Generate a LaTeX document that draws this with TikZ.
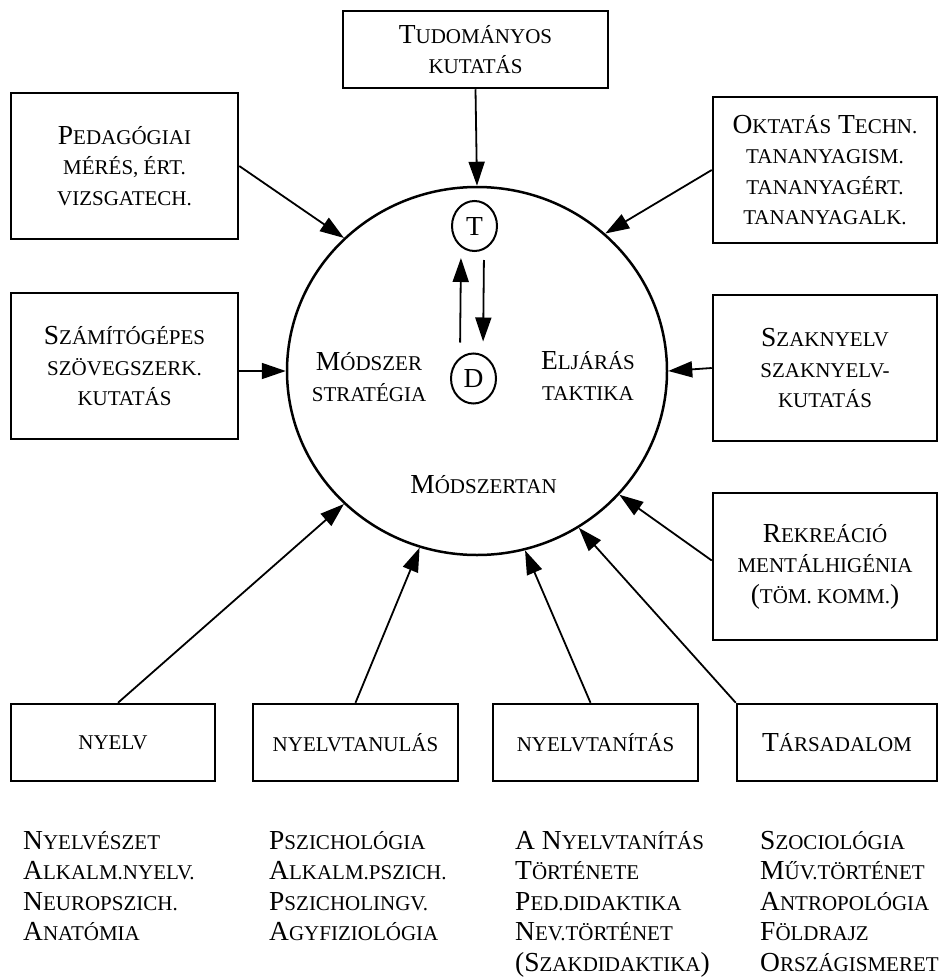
\documentclass[tikz,border=0pt]{standalone}
\usepackage{fontspec}
\setmainfont{Liberation Serif}
\usetikzlibrary{arrows.meta,shapes.geometric}
\newcommand\SC[1]{{\fontsize{21}{30.5}\selectfont #1}}
\tikzset{
  box/.style={draw, line width=2.5pt, inner sep=0pt, align=center, font=\fontsize{27.5}{30.5}\selectfont},
  txt/.style={inner sep=0pt, align=center, font=\fontsize{27.5}{30.5}\selectfont},
  lst/.style={inner sep=0pt, align=left, font=\fontsize{27.5}{30.5}\selectfont},
  arr/.style={line width=1.8pt, -{Triangle[length=24pt,width=16pt]}},
  small/.style={draw, ellipse, line width=2pt, inner sep=0pt, minimum width=45pt, minimum height=50pt, font=\fontsize{27.5}{30.5}\selectfont}
}
\begin{document}
\begin{tikzpicture}[x=1pt,y=-1pt]
\useasboundingbox (0,0) rectangle (938,977);
% central ellipse
\node[draw, ellipse, line width=2.5pt, inner sep=0pt, minimum width=380pt, minimum height=368pt] (circ) at (477,371) {};
\node[small] (T) at (474.5,226) {T};
\node[small] (D) at (473.5,378.5) {D};
\node[txt] (mod) at (369,377) {M\SC{ÓDSZER}\\\SC{STRATÉGIA}};
\node[txt] (elj) at (588,376) {E\SC{LJÁRÁS}\\\SC{TAKTIKA}};
\node[txt, anchor=base] (mt) at (483.5,493) {M\SC{ÓDSZERTAN}};
% boxes
\node[box, minimum width=265pt, minimum height=77pt] (tud) at (475.5,49.5) {T\SC{UDOMÁNYOS}\\\SC{KUTATÁS}};
\node[box, minimum width=227pt, minimum height=146pt] (ped) at (124.5,166) {P\SC{EDAGÓGIAI}\\\SC{MÉRÉS, ÉRT.}\\\SC{VIZSGATECH.}};
\node[box, minimum width=227pt, minimum height=146pt] (szam) at (124.5,366) {S\SC{ZÁMÍTÓGÉPES}\\\SC{SZÖVEGSZERK.}\\\SC{KUTATÁS}};
\node[box, minimum width=224pt, minimum height=146pt] (okt) at (825,170) {O\SC{KTATÁS} T\SC{ECHN.}\\\SC{TANANYAGISM.}\\\SC{TANANYAGÉRT.}\\\SC{TANANYAGALK.}};
\node[box, minimum width=224pt, minimum height=146pt] (szak) at (825,368) {S\SC{ZAKNYELV}\\\SC{SZAKNYELV-}\\\SC{KUTATÁS}};
\node[box, minimum width=224pt, minimum height=147pt] (rek) at (825,566.5) {R\SC{EKREÁCIÓ}\\\SC{MENTÁLHIGÉNIA}\\(\SC{TÖM. KOMM.})};
\node[box, minimum width=204pt, minimum height=77pt] (nyelv) at (113,742.5) {\SC{NYELV}};
\node[box, minimum width=205pt, minimum height=77pt] (tanul) at (355.5,742.5) {\SC{NYELVTANULÁS}};
\node[box, minimum width=205pt, minimum height=77pt] (tanit) at (595.5,742.5) {\SC{NYELVTANÍTÁS}};
\node[box, minimum width=200pt, minimum height=77pt] (tars) at (837,742.5) {T\SC{ÁRSADALOM}};
% lists
\node[lst, anchor=north west] (l1) at (23,831) {N\SC{YELVÉSZET}\\A\SC{LKALM.NYELV.}\\N\SC{EUROPSZICH.}\\A\SC{NATÓMIA}};
\node[lst, anchor=north west] (l2) at (269,831) {P\SC{SZICHOLÓGIA}\\A\SC{LKALM.PSZICH.}\\P\SC{SZICHOLINGV.}\\A\SC{GYFIZIOLÓGIA}};
\node[lst, anchor=north west] (l3) at (515,831) {A N\SC{YELVTANÍTÁS}\\T\SC{ÖRTÉNETE}\\P\SC{ED.DIDAKTIKA}\\N\SC{EV.TÖRTÉNET}\\(S\SC{ZAKDIDAKTIKA})};
\node[lst, anchor=north west] (l4) at (760,831) {S\SC{ZOCIOLÓGIA}\\M\SC{ŰV.TÖRTÉNET}\\A\SC{NTROPOLÓGIA}\\F\SC{ÖLDRAJZ}\\O\SC{RSZÁGISMERET}};
% arrows
\draw[arr] (tud.south) -- (circ.north);
\draw[arr] (ped.east) -- (circ.135);
\draw[arr] (okt.west) -- (circ.47);
\draw[arr] (szam.east |- circ.west) -- (circ.west);
\draw[arr] (szak.west) -- (circ.east);
\draw[arr] ([yshift=6pt]rek.west) -- (circ.-41);
\draw[arr] ([xshift=5pt]nyelv.north) -- (circ.-135);
\draw[arr] (tanul.north) -- (circ.-108);
\draw[arr] ([xshift=-5pt]tanit.north) -- (circ.-75);
\draw[arr] (tars.north west) -- (circ.-57);
\draw[arr, shorten <=10pt, shorten >=6pt] ([xshift=-13.5pt]D.north) -- ([xshift=-13.5pt]T.south);
\draw[arr, shorten <=8pt, shorten >=11pt] ([xshift=9.5pt]T.south) -- ([xshift=9.5pt]D.north);
\end{tikzpicture}
\end{document}
